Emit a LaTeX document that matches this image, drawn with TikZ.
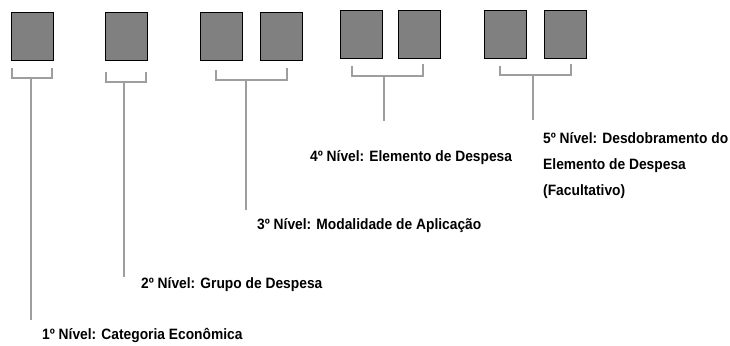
\documentclass[tikz,border=0pt]{standalone}
\usepackage{fontspec}
\setmainfont{Liberation Sans}[FakeStretch=0.92]
\begin{document}
\begin{tikzpicture}[x=1pt,y=-1pt,
  digit/.style={draw=black,fill=black!50,line width=1.3pt,minimum width=42pt,minimum height=48pt,inner sep=0pt,anchor=north west},
  brk/.style={draw=black!38,line width=1.3pt},
  lbl/.style={font=\fontsize{15}{26}\selectfont\bfseries,inner sep=0pt,anchor=west,align=left}]
\useasboundingbox (0,0) rectangle (730,345);
% boxes
\node[digit] (b1) at (11,12) {};
\node[digit] (b2) at (105,12) {};
\node[digit] (b3) at (200,12) {};
\node[digit] (b4) at (260,12) {};
\node[digit] (b5) at (340,10) {};
\node[digit] (b6) at (398,10) {};
\node[digit] (b7) at (484,10) {};
\node[digit] (b8) at (544,10) {};
% labels
\node[lbl] (t1) at (42,335) {1º Nível: Categoria Econômica};
\node[lbl] (t2) at (141,285) {2º Nível: Grupo de Despesa};
\node[lbl] (t3) at (257,226) {3º Nível: Modalidade de Aplicação};
\node[lbl] (t4) at (310,158) {4º Nível: Elemento de Despesa};
\node[lbl,anchor=north west] (t5) at (543,132) {5º Nível: Desdobramento do\\Elemento de Despesa\\(Facultativo)};
% brackets
\coordinate (s1) at (31,320);
\coordinate (s2) at (124,277);
\coordinate (s3) at (246,210);
\coordinate (s4) at (384,121);
\coordinate (s5) at (533,120);
\draw[brk] (12,68) |- (52,78) -- (52,68);
\draw[brk] (31,78) -- (s1);
\draw[brk] (106,72) |- (146,82) -- (146,72);
\draw[brk] (124,82) -- (s2);
\draw[brk] (216,70) |- (287,80) -- (287,68);
\draw[brk] (246,80) -- (s3);
\draw[brk] (352,66) |- (423,76) -- (423,64);
\draw[brk] (384,76) -- (s4);
\draw[brk] (500,66) |- (571,75) -- (571,64);
\draw[brk] (533,75) -- (s5);
\end{tikzpicture}
\end{document}
